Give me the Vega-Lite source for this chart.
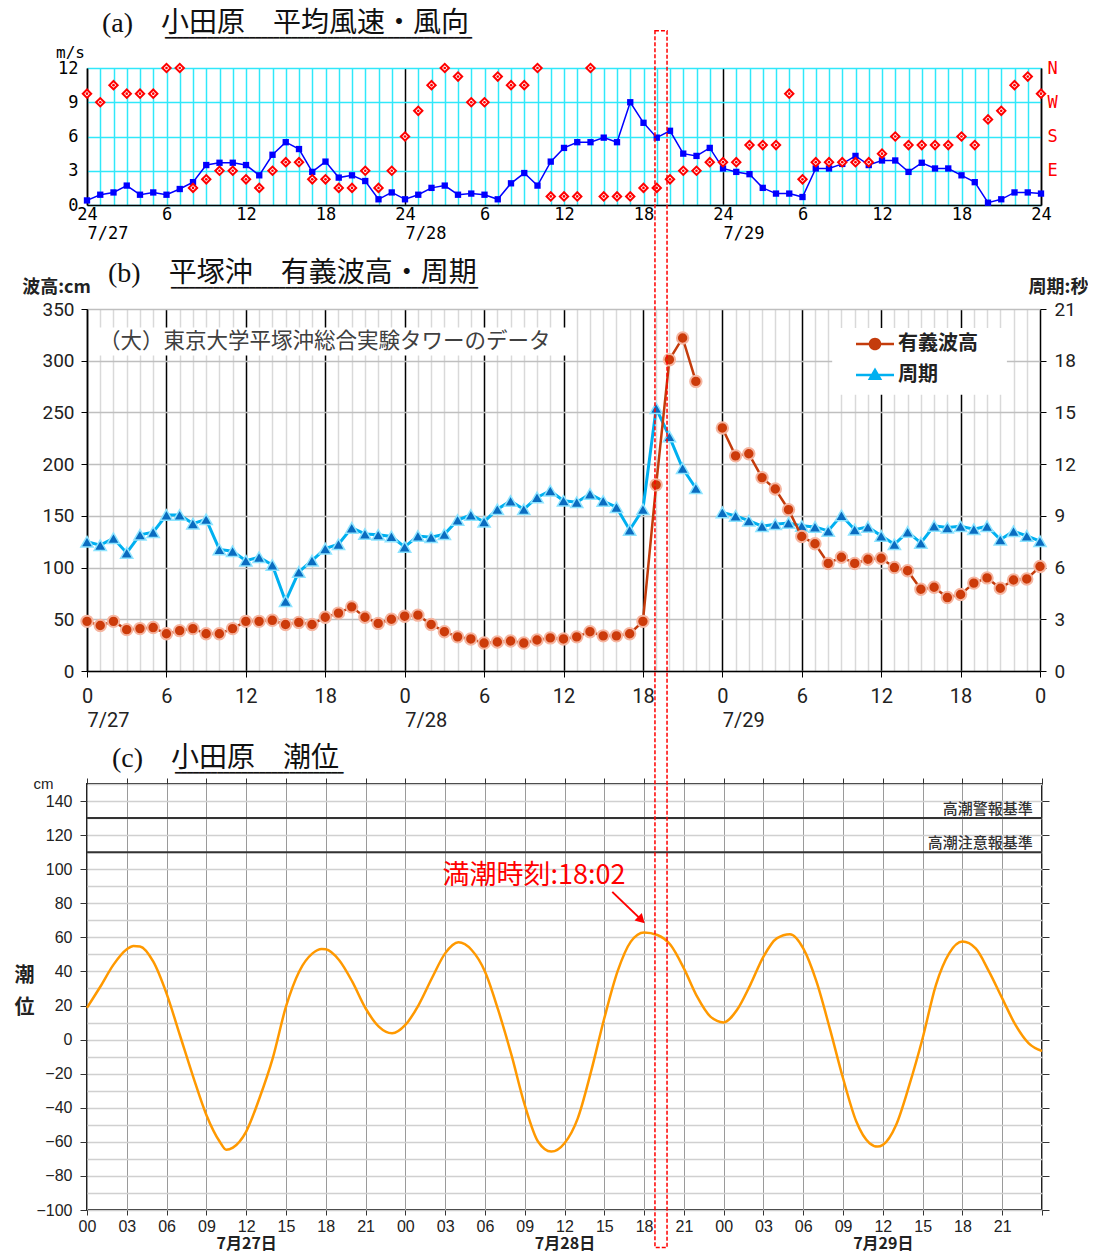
{
  "$schema": "https://vega.github.io/schema/vega-lite/v6.json",
  "background": "white",
  "padding": {"left": 13, "top": 10, "right": 0, "bottom": 0},
  "config": {"view": {"stroke": null}, "font": "Roboto"},
  "datasets": {
    "wind": [
      {"h":0,"speed":0.4,"dir":292.5},{"h":1,"speed":0.9,"dir":270},{"h":2,"speed":1.1,"dir":315},{"h":3,"speed":1.7,"dir":292.5},
      {"h":4,"speed":0.9,"dir":292.5},{"h":5,"speed":1.1,"dir":292.5},{"h":6,"speed":0.9,"dir":360},{"h":7,"speed":1.4,"dir":360},
      {"h":8,"speed":2.0,"dir":45},{"h":9,"speed":3.5,"dir":67.5},{"h":10,"speed":3.7,"dir":90},{"h":11,"speed":3.7,"dir":90},
      {"h":12,"speed":3.5,"dir":67.5},{"h":13,"speed":2.6,"dir":45},{"h":14,"speed":4.4,"dir":90},{"h":15,"speed":5.5,"dir":112.5},
      {"h":16,"speed":4.9,"dir":112.5},{"h":17,"speed":2.9,"dir":67.5},{"h":18,"speed":3.8,"dir":67.5},{"h":19,"speed":2.4,"dir":45},
      {"h":20,"speed":2.6,"dir":45},{"h":21,"speed":2.1,"dir":90},{"h":22,"speed":0.5,"dir":45},{"h":23,"speed":1.1,"dir":90},
      {"h":24,"speed":0.5,"dir":180},{"h":25,"speed":0.9,"dir":247.5},{"h":26,"speed":1.5,"dir":315},{"h":27,"speed":1.7,"dir":360},
      {"h":28,"speed":0.9,"dir":337.5},{"h":29,"speed":1.0,"dir":270},{"h":30,"speed":0.9,"dir":270},{"h":31,"speed":0.5,"dir":337.5},
      {"h":32,"speed":1.9,"dir":315},{"h":33,"speed":2.8,"dir":315},{"h":34,"speed":1.7,"dir":360},{"h":35,"speed":3.8,"dir":22.5},
      {"h":36,"speed":5.0,"dir":22.5},{"h":37,"speed":5.5,"dir":22.5},{"h":38,"speed":5.5,"dir":360},{"h":39,"speed":5.9,"dir":22.5},
      {"h":40,"speed":5.5,"dir":22.5},{"h":41,"speed":9.0,"dir":22.5},{"h":42,"speed":7.2,"dir":45},{"h":43,"speed":5.9,"dir":45},
      {"h":44,"speed":6.5,"dir":67.5},{"h":45,"speed":4.5,"dir":90},{"h":46,"speed":4.3,"dir":90},{"h":47,"speed":5.0,"dir":112.5},
      {"h":48,"speed":3.2,"dir":112.5},{"h":49,"speed":2.9,"dir":112.5},{"h":50,"speed":2.7,"dir":157.5},{"h":51,"speed":1.5,"dir":157.5},
      {"h":52,"speed":1.0,"dir":157.5},{"h":53,"speed":1.0,"dir":292.5},{"h":54,"speed":0.7,"dir":67.5},{"h":55,"speed":3.2,"dir":112.5},
      {"h":56,"speed":3.2,"dir":112.5},{"h":57,"speed":3.6,"dir":112.5},{"h":58,"speed":4.3,"dir":112.5},{"h":59,"speed":3.5,"dir":112.5},
      {"h":60,"speed":3.9,"dir":135},{"h":61,"speed":3.9,"dir":180},{"h":62,"speed":2.9,"dir":157.5},{"h":63,"speed":3.7,"dir":157.5},
      {"h":64,"speed":3.2,"dir":157.5},{"h":65,"speed":3.2,"dir":157.5},{"h":66,"speed":2.6,"dir":180},{"h":67,"speed":2.0,"dir":157.5},
      {"h":68,"speed":0.2,"dir":225},{"h":69,"speed":0.5,"dir":247.5},{"h":70,"speed":1.1,"dir":315},{"h":71,"speed":1.1,"dir":337.5},
      {"h":72,"speed":1.0,"dir":292.5}
    ],
    "wave": [
      {"h":0,"height":48,"period":7.5},{"h":1,"height":44,"period":7.3},{"h":2,"height":48,"period":7.7},{"h":3,"height":40,"period":6.85},
      {"h":4,"height":41,"period":7.9},{"h":5,"height":42,"period":8.05},{"h":6,"height":36,"period":9.05},{"h":7,"height":39,"period":9.05},
      {"h":8,"height":41,"period":8.55},{"h":9,"height":36,"period":8.8},{"h":10,"height":36,"period":7.05},{"h":11,"height":41,"period":6.95},
      {"h":12,"height":48,"period":6.4},{"h":13,"height":48,"period":6.6},{"h":14,"height":49,"period":6.15},{"h":15,"height":45,"period":4.05},
      {"h":16,"height":47,"period":5.75},{"h":17,"height":45,"period":6.4},{"h":18,"height":52,"period":7.1},{"h":19,"height":56,"period":7.35},
      {"h":20,"height":62,"period":8.3},{"h":21,"height":52,"period":7.95},{"h":22,"height":46,"period":7.9},{"h":23,"height":50,"period":7.8},
      {"h":24,"height":53,"period":7.2},{"h":25,"height":54,"period":7.83},{"h":26,"height":45,"period":7.76},{"h":27,"height":38,"period":7.93},
      {"h":28,"height":33,"period":8.76},{"h":29,"height":31,"period":9.05},{"h":30,"height":27,"period":8.66},{"h":31,"height":28,"period":9.38},
      {"h":32,"height":29,"period":9.86},{"h":33,"height":27,"period":9.38},{"h":34,"height":30,"period":10.07},{"h":35,"height":32,"period":10.46},
      {"h":36,"height":31,"period":9.88},{"h":37,"height":33,"period":9.79},{"h":38,"height":38,"period":10.27},{"h":39,"height":34,"period":9.86},
      {"h":40,"height":34,"period":9.5},{"h":41,"height":36,"period":8.18},{"h":42,"height":48,"period":9.38},{"h":43,"height":180,"period":15.24},
      {"h":44,"height":301,"period":13.6},{"h":45,"height":322,"period":11.76},{"h":46,"height":280,"period":10.6},{"h":47,"height":null,"period":null},
      {"h":48,"height":235,"period":9.2},{"h":49,"height":208,"period":9.0},{"h":50,"height":210,"period":8.72},{"h":51,"height":187,"period":8.4},
      {"h":52,"height":176,"period":8.51},{"h":53,"height":156,"period":8.59},{"h":54,"height":130,"period":8.42},{"h":55,"height":123,"period":8.36},
      {"h":56,"height":104,"period":8.13},{"h":57,"height":110,"period":9.03},{"h":58,"height":104,"period":8.2},{"h":59,"height":108,"period":8.36},
      {"h":60,"height":109,"period":7.84},{"h":61,"height":100,"period":7.35},{"h":62,"height":97,"period":8.07},{"h":63,"height":79,"period":7.43},
      {"h":64,"height":81,"period":8.42},{"h":65,"height":71,"period":8.32},{"h":66,"height":74,"period":8.4},{"h":67,"height":85,"period":8.22},
      {"h":68,"height":90,"period":8.4},{"h":69,"height":80,"period":7.62},{"h":70,"height":88,"period":8.11},{"h":71,"height":89,"period":7.84},
      {"h":72,"height":101,"period":7.53}
    ],
    "tide": [
      {"h":0,"level":18.7},{"h":1,"level":31},{"h":2,"level":44},{"h":3,"level":53},{"h":3.5,"level":55},{"h":4,"level":54.7},
      {"h":5,"level":45.7},{"h":6,"level":27},{"h":7,"level":2.7},{"h":8,"level":-21.7},{"h":9,"level":-44.2},{"h":10,"level":-59.8},
      {"h":10.5,"level":-64.7},{"h":11,"level":-63.4},{"h":12,"level":-54},{"h":13,"level":-34.4},{"h":14,"level":-11},{"h":15,"level":19.3},
      {"h":16,"level":40},{"h":17,"level":50.6},{"h":17.7,"level":53.2},{"h":18,"level":53},{"h":19,"level":46.7},{"h":20,"level":34},
      {"h":21,"level":18.4},{"h":22,"level":7.6},{"h":23,"level":3.7},{"h":24,"level":8.6},{"h":25,"level":20.3},{"h":26,"level":36},
      {"h":27,"level":50.6},{"h":28,"level":57.1},{"h":29,"level":52.6},{"h":30,"level":40},{"h":31,"level":17.4},{"h":32,"level":-9},
      {"h":33,"level":-38.3},{"h":34,"level":-59.8},{"h":35,"level":-65.7},{"h":36,"level":-60.8},{"h":37,"level":-46.2},{"h":38,"level":-18.8},
      {"h":39,"level":12.5},{"h":40,"level":40},{"h":41,"level":57.5},{"h":42,"level":62.9},{"h":43,"level":61.4},{"h":44,"level":55.5},
      {"h":45,"level":41.8},{"h":46,"level":25.2},{"h":47,"level":13.5},{"h":48,"level":10.1},{"h":49,"level":17.4},{"h":50,"level":32},
      {"h":51,"level":48.7},{"h":52,"level":59.4},{"h":53,"level":61.8},{"h":54,"level":53.5},{"h":55,"level":34},{"h":56,"level":6.6},
      {"h":57,"level":-22.7},{"h":58,"level":-48.1},{"h":59,"level":-60.8},{"h":59.6,"level":-62.8},{"h":60,"level":-61.8},{"h":61,"level":-50.1},
      {"h":62,"level":-26.6},{"h":63,"level":0.8},{"h":64,"level":32},{"h":65,"level":50.6},{"h":66,"level":57.5},{"h":67,"level":53.5},
      {"h":68,"level":40},{"h":69,"level":24.2},{"h":70,"level":8.6},{"h":71,"level":-2.2},{"h":72,"level":-6.7}
    ],
    "thresholds": [{"level":130,"label":"高潮警報基準"},{"level":110,"label":"高潮注意報基準"}],
    "legendItems": [{"series":"有義波高"},{"series":"周期"}]
  },
  "bounds": "flush",
  "spacing": 104,
  "vconcat": [
    {
      "width": 954,
      "height": 137,
      "title": {
        "text": "(a)\u2003小田原　平均風速・風向",
        "subtitle": "\u2800\u2800\u2800\u2800\u2800\u2800\u2800\u2800\u2800━━━━━━━━━━━━━━━━━━━━━━━━━━━━━━━━━━━━━━━━━━━━━━━━━━━",
        "anchor": "start", "frame": "group", "dx": 15, "offset": 1,
        "font": "Liberation Serif, Noto Sans CJK JP", "fontSize": 28, "fontWeight": "normal", "color": "#111",
        "subtitleFont": "DejaVu Sans Mono", "subtitleFontSize": 10, "subtitleColor": "#111", "subtitlePadding": -5
      },
      "data": {"name": "wind"},
      "resolve": {"scale": {"y": "independent"}, "axis": {"x": "independent", "y": "independent"}},
      "layer": [
        {
          "mark": {"type": "line", "color": "#0000ff", "strokeWidth": 1.5},
          "encoding": {
            "x": {"field": "h", "type": "quantitative", "scale": {"domain": [0, 72], "nice": false, "zero": false},
              "axis": {
                "orient": "bottom",
                "values": [0,1,2,3,4,5,6,7,8,9,10,11,12,13,14,15,16,17,18,19,20,21,22,23,24,25,26,27,28,29,30,31,32,33,34,35,36,37,38,39,40,41,42,43,44,45,46,47,48,49,50,51,52,53,54,55,56,57,58,59,60,61,62,63,64,65,66,67,68,69,70,71,72],
                "grid": true,
                "gridColor": {"condition": {"test": "datum.value % 24 === 0", "value": "#000000"}, "value": "#30e8fa"},
                "gridWidth": 1.5, "gridOpacity": 1,
                "ticks": false, "tickSize": 0,
                "domainColor": "#000", "domainWidth": 1.5,
                "labelExpr": "datum.value % 6 === 0 ? (datum.value % 24 === 0 ? '24' : '' + (datum.value % 24)) : ''",
                "labelFont": "DejaVu Sans Mono", "labelFontSize": 17, "labelColor": "#000",
                "labelPadding": 1, "labelFlush": false, "labelOverlap": false, "title": null
              }},
            "y": {"field": "speed", "type": "quantitative", "scale": {"domain": [0, 12], "nice": false},
              "axis": {
                "orient": "left",
                "values": [0, 3, 6, 9, 12], "grid": true, "gridColor": "#30e8fa", "gridWidth": 1.5, "gridOpacity": 1,
                "ticks": false, "tickSize": 0, "domainColor": "#000", "domainWidth": 1.5,
                "labelFont": "DejaVu Sans Mono", "labelFontSize": 17, "labelColor": "#000", "labelPadding": 9, "labelFlush": false,
                "title": "m/s", "titleAngle": 0, "titleX": -17, "titleY": -16, "titleAlign": "center", "titleBaseline": "middle",
                "titleFont": "DejaVu Sans Mono", "titleFontSize": 16, "titleFontWeight": "normal", "titleColor": "#000"
              }}
          }
        },
        {
          "mark": {"type": "point", "shape": "square", "filled": true, "color": "#0000ff", "size": 40, "opacity": 1},
          "encoding": {
            "x": {"field": "h", "type": "quantitative",
              "axis": {
                "orient": "bottom",
                "values": [0, 24, 48],
                "labelExpr": "datum.value === 0 ? '7/27' : datum.value === 24 ? '7/28' : '7/29'",
                "labelAlign": "left", "labelDx": 20, "ticks": false, "tickSize": 0, "grid": false, "domain": false,
                "labelFont": "DejaVu Sans Mono", "labelFontSize": 17, "labelColor": "#000", "labelPadding": 20,
                "labelFlush": false, "title": null
              }},
            "y": {"field": "speed", "type": "quantitative", "scale": {"domain": [0, 12], "nice": false}, "axis": null}
          }
        },
        {
          "mark": {"type": "point", "shape": "diamond", "filled": true, "fill": "#ffffff", "stroke": "#ff0000", "strokeWidth": 2, "size": 70, "opacity": 1},
          "encoding": {
            "x": {"field": "h", "type": "quantitative", "axis": null},
            "y": {"field": "dir", "type": "quantitative", "scale": {"domain": [0, 360], "nice": false},
              "axis": {
                "orient": "right", "values": [90, 180, 270, 360],
                "labelExpr": "datum.value === 360 ? 'N' : datum.value === 270 ? 'W' : datum.value === 180 ? 'S' : 'E'",
                "labelColor": "#ff0000", "labelFont": "DejaVu Sans Mono", "labelFontSize": 17, "labelPadding": 6,
                "ticks": false, "tickSize": 0, "grid": false, "domainColor": "#000", "domainWidth": 1.5, "labelFlush": false, "title": null
              }}
          }
        },
        {
          "mark": {"type": "point", "shape": "circle", "filled": true, "color": "#ff0000", "size": 7, "opacity": 1},
          "encoding": {
            "x": {"field": "h", "type": "quantitative", "axis": null},
            "y": {"field": "dir", "type": "quantitative", "scale": {"domain": [0, 360], "nice": false}, "axis": null}
          }
        }
      ]
    },
    {
      "bounds": "flush",
      "spacing": 113,
      "vconcat": [
        {
          "width": 953,
          "height": 362,
          "title": {
            "text": "(b)\u2003平塚沖　有義波高・周期",
            "subtitle": "\u2800\u2800\u2800\u2800\u2800\u2800\u2800\u2800\u2800━━━━━━━━━━━━━━━━━━━━━━━━━━━━━━━━━━━━━━━━━━━━━━━━━━━",
            "anchor": "start", "frame": "group", "dx": 21, "offset": -15,
            "font": "Liberation Serif, Noto Sans CJK JP", "fontSize": 28, "fontWeight": "normal", "color": "#111",
            "subtitleFont": "DejaVu Sans Mono", "subtitleFontSize": 10, "subtitleColor": "#111", "subtitlePadding": -5
          },
          "resolve": {"scale": {"y": "independent"}, "axis": {"x": "independent", "y": "independent"}},
          "layer": [
            {
              "data": {"values": [{"box": "note"}]},
              "mark": {"type": "rect", "fill": "#ffffff"},
              "encoding": {
                "x": {"datum": 0.6, "type": "quantitative", "scale": {"domain": [0, 72], "nice": false, "zero": false},
                  "axis": {
                    "orient": "bottom",
                    "values": [0,1,2,3,4,5,6,7,8,9,10,11,12,13,14,15,16,17,18,19,20,21,22,23,24,25,26,27,28,29,30,31,32,33,34,35,36,37,38,39,40,41,42,43,44,45,46,47,48,49,50,51,52,53,54,55,56,57,58,59,60,61,62,63,64,65,66,67,68,69,70,71,72],
                    "grid": true,
                    "gridColor": {"condition": {"test": "datum.value % 6 === 0", "value": "#000000"}, "value": "#d9d9d9"},
                    "gridWidth": 1.5, "gridOpacity": 1,
                    "ticks": true, "tickColor": "#000", "tickSize": 6,
                    "tickOpacity": {"condition": {"test": "datum.value % 6 === 0", "value": 1}, "value": 0},
                    "domainColor": "#000", "domainWidth": 1.5,
                    "labelExpr": "datum.value % 6 === 0 ? '' + (datum.value % 24) : ''",
                    "labelFont": "Roboto", "labelFontSize": 20, "labelColor": "#222",
                    "labelPadding": 9, "labelFlush": false, "labelOverlap": false, "title": null
                  }},
                "x2": {"datum": 36.6},
                "y": {"datum": 332, "type": "quantitative", "scale": {"domain": [0, 350], "nice": false},
                  "axis": {
                    "orient": "left",
                    "values": [0, 50, 100, 150, 200, 250, 300, 350],
                    "grid": true, "gridColor": "#bfbfbf", "gridWidth": 1.5, "gridOpacity": 1,
                    "tickColor": "#000", "tickSize": 6, "domainColor": "#000", "domainWidth": 1.5,
                    "labelFont": "Roboto", "labelFontSize": 19, "labelColor": "#222", "labelPadding": 7, "labelFlush": false,
                    "title": "波高:cm", "titleAngle": 0, "titleX": -31, "titleY": -22, "titleAlign": "center", "titleBaseline": "middle",
                    "titleFont": "Noto Sans CJK JP", "titleFontSize": 18, "titleFontWeight": "bold", "titleColor": "#222"
                  }},
                "y2": {"datum": 305}
              }
            },
            {
              "data": {"values": [{"box": "legend"}]},
              "mark": {"type": "rect", "fill": "#ffffff"},
              "encoding": {
                "x": {"datum": 56.3, "type": "quantitative", "axis": null},
                "x2": {"datum": 69.5},
                "y": {"datum": 331.6, "type": "quantitative", "scale": {"domain": [0, 350], "nice": false}, "axis": null},
                "y2": {"datum": 267}
              }
            },
            {
              "data": {"values": [{"note": "（大）東京大学平塚沖総合実験タワーのデータ"}]},
              "mark": {"type": "text", "align": "left", "baseline": "middle", "font": "Liberation Serif, Noto Sans CJK JP", "fontSize": 21.5, "color": "#404040"},
              "encoding": {
                "x": {"datum": 0.9, "type": "quantitative", "axis": null},
                "y": {"datum": 318, "type": "quantitative", "scale": {"domain": [0, 350], "nice": false}, "axis": null},
                "text": {"field": "note"}
              }
            },
            {
              "data": {"name": "wave"},
              "mark": {"type": "line", "color": "#00b0f0", "strokeWidth": 3},
              "encoding": {
                "x": {"field": "h", "type": "quantitative",
                  "axis": {
                    "orient": "bottom",
                    "values": [0, 24, 48],
                    "labelExpr": "datum.value === 0 ? '7/27' : datum.value === 24 ? '7/28' : '7/29'",
                    "labelAlign": "left", "labelDx": 3, "ticks": false, "tickSize": 0, "grid": false, "domain": false,
                    "labelFont": "Roboto", "labelFontSize": 20, "labelColor": "#222", "labelPadding": 39,
                    "labelFlush": false, "title": null
                  }},
                "y": {"field": "period", "type": "quantitative", "scale": {"domain": [0, 21], "nice": false},
                  "axis": {
                    "orient": "right", "values": [0, 3, 6, 9, 12, 15, 18, 21], "grid": false,
                    "tickColor": "#000", "tickSize": 6, "domain": false,
                    "labelFont": "Roboto", "labelFontSize": 19, "labelColor": "#222", "labelPadding": 8, "labelFlush": false,
                    "title": "周期:秒", "titleAngle": 0, "titleX": 18, "titleY": -22, "titleAlign": "center", "titleBaseline": "middle",
                    "titleFont": "Noto Sans CJK JP", "titleFontSize": 18, "titleFontWeight": "bold", "titleColor": "#222"
                  }}
              }
            },
            {
              "data": {"name": "wave"},
              "mark": {"type": "point", "shape": "triangle-up", "filled": true, "fill": "#0a6cc0", "stroke": "#8de4ff", "strokeWidth": 1.5, "size": 150, "opacity": 1},
              "encoding": {
                "x": {"field": "h", "type": "quantitative", "axis": null},
                "y": {"field": "period", "type": "quantitative", "scale": {"domain": [0, 21], "nice": false}, "axis": null}
              }
            },
            {
              "data": {"name": "wave"},
              "mark": {"type": "line", "color": "#c43c0c", "strokeWidth": 2.5},
              "encoding": {
                "x": {"field": "h", "type": "quantitative", "axis": null},
                "y": {"field": "height", "type": "quantitative", "scale": {"domain": [0, 350], "nice": false}, "axis": null}
              }
            },
            {
              "data": {"name": "wave"},
              "mark": {"type": "point", "shape": "circle", "filled": true, "fill": "#cc3b0a", "stroke": "#f5b5a0", "strokeWidth": 2, "size": 130, "opacity": 1},
              "encoding": {
                "x": {"field": "h", "type": "quantitative", "axis": null},
                "y": {"field": "height", "type": "quantitative", "scale": {"domain": [0, 350], "nice": false}, "axis": null}
              }
            },
            {
              "data": {"name": "legendItems"},
              "mark": {"type": "point", "filled": true, "opacity": 0},
              "encoding": {
                "color": {"field": "series", "type": "nominal",
                  "scale": {"domain": ["有義波高", "周期"], "range": ["#c43c0c", "#00b0f0"]},
                  "legend": {"orient": "none", "legendX": 769, "legendY": 257, "title": null, "padding": 0,
                    "symbolSize": 1444, "symbolStrokeWidth": 0, "symbolOpacity": 1,
                    "labelFont": "Noto Sans CJK JP", "labelFontSize": 20, "labelFontWeight": "bold", "labelColor": "#222",
                    "labelOffset": 4, "rowPadding": 2}},
                "shape": {"field": "series", "type": "nominal",
                  "scale": {"domain": ["有義波高", "周期"], "range": [
                    "M-1,-0.07H1V0.07H-1Z M0.33,0A0.33,0.33,0,1,1,-0.33,0A0.33,0.33,0,1,1,0.33,0Z",
                    "M-1,-0.07H1V0.07H-1Z M0,-0.4L0.38,0.26L-0.38,0.26Z"]},
                  "legend": {"orient": "none", "legendX": 769, "legendY": 257, "title": null, "padding": 0,
                    "symbolSize": 1444, "symbolStrokeWidth": 0, "symbolOpacity": 1,
                    "labelFont": "Noto Sans CJK JP", "labelFontSize": 20, "labelFontWeight": "bold", "labelColor": "#222",
                    "labelOffset": 4, "rowPadding": 2}}
              }
            }
          ]
        },
        {
          "width": 955,
          "height": 426,
          "view": {"stroke": "#222222", "strokeWidth": 2},
          "title": {
            "text": "(c)\u2003小田原　潮位",
            "subtitle": "\u2800\u2800\u2800\u2800\u2800\u2800\u2800\u2800\u2800━━━━━━━━━━━━━━━━━━━━━━━━━━━━",
            "anchor": "start", "frame": "group", "dx": 25, "offset": -748,
            "font": "Liberation Serif, Noto Sans CJK JP", "fontSize": 28, "fontWeight": "normal", "color": "#111",
            "subtitleFont": "DejaVu Sans Mono", "subtitleFontSize": 10, "subtitleColor": "#111", "subtitlePadding": -5
          },
          "resolve": {"axis": {"x": "independent", "y": "independent"}},
          "layer": [
            {
              "data": {"name": "thresholds"},
              "mark": {"type": "rule", "color": "#333333", "strokeWidth": 2},
              "encoding": {
                "x": {"datum": 0, "type": "quantitative", "scale": {"domain": [0, 72], "nice": false, "zero": false},
                  "axis": {
                    "orient": "bottom",
                    "values": [0,3,6,9,12,15,18,21,24,27,30,33,36,39,42,45,48,51,54,57,60,63,66,69,72],
                    "grid": true, "gridColor": "#9a9a9a", "gridWidth": 1, "gridOpacity": 1,
                    "ticks": true, "tickColor": "#333", "tickSize": 5, "domain": false,
                    "labelExpr": "datum.value < 72 ? ((datum.value % 24 < 10 ? '0' : '') + (datum.value % 24)) : ''",
                    "labelFont": "Liberation Sans", "labelFontSize": 16, "labelColor": "#222", "labelPadding": 3,
                    "labelFlush": false, "labelOverlap": false, "title": null
                  }},
                "x2": {"datum": 72},
                "y": {"field": "level", "type": "quantitative", "scale": {"domain": [-100, 150], "nice": false, "zero": false},
                  "axis": {
                    "orient": "left",
                    "values": [-100,-90,-80,-70,-60,-50,-40,-30,-20,-10,0,10,20,30,40,50,60,70,80,90,100,110,120,130,140,150],
                    "grid": true, "gridColor": "#d0d0d0", "gridWidth": 1.5, "gridOpacity": 1,
                    "tickColor": "#333", "tickSize": 7,
                    "tickOpacity": {"condition": {"test": "datum.value % 20 !== 0 || datum.value > 140", "value": 0}, "value": 1},
                    "domain": false,
                    "labelExpr": "datum.value % 20 === 0 && datum.value <= 140 ? datum.label : ''",
                    "labelFont": "Liberation Sans", "labelFontSize": 16, "labelColor": "#222", "labelPadding": 8,
                    "labelFlush": false, "labelOverlap": false,
                    "title": "cm", "titleAngle": 0, "titleX": -44, "titleY": -1, "titleAlign": "center", "titleBaseline": "middle",
                    "titleFont": "Liberation Sans", "titleFontSize": 15, "titleFontWeight": "normal", "titleColor": "#222"
                  }}
              }
            },
            {
              "data": {"name": "thresholds"},
              "mark": {"type": "text", "align": "right", "baseline": "middle", "dy": -9, "font": "Noto Sans CJK JP", "fontSize": 15, "fontWeight": 500, "color": "#333333"},
              "encoding": {
                "x": {"datum": 71.3, "type": "quantitative",
                  "axis": {
                    "orient": "bottom",
                    "values": [12, 36, 60],
                    "labelExpr": "datum.value === 12 ? '7月27日' : datum.value === 36 ? '7月28日' : '7月29日'",
                    "ticks": false, "tickSize": 0, "grid": false, "domain": false,
                    "labelFont": "Noto Sans CJK JP", "labelFontSize": 16, "labelFontWeight": "bold", "labelColor": "#222",
                    "labelPadding": 25, "labelFlush": false, "title": null
                  }},
                "y": {"field": "level", "type": "quantitative",
                  "axis": {
                    "orient": "left",
                    "labels": false, "ticks": false, "tickSize": 0, "grid": false, "domain": false,
                    "title": ["潮", "位"], "titleAngle": 0, "titleX": -63, "titleY": 191, "titleAlign": "center", "titleBaseline": "middle",
                    "titleFont": "Noto Sans CJK JP", "titleFontSize": 20, "titleFontWeight": "bold", "titleColor": "#222", "titleLineHeight": 32
                  }},
                "text": {"field": "label"}
              }
            },
            {
              "data": {"name": "tide"},
              "mark": {"type": "line", "color": "#ff9900", "strokeWidth": 2.5, "interpolate": "monotone"},
              "encoding": {
                "x": {"field": "h", "type": "quantitative",
                  "axis": {
                    "orient": "top", "values": [0,3,6,9,12,15,18,21,24,27,30,33,36,39,42,45,48,51,54,57,60,63,66,69,72],
                    "labels": false, "ticks": true, "tickSize": 6, "tickColor": "#333", "grid": false, "domain": false, "title": null
                  }},
                "y": {"field": "level", "type": "quantitative",
                  "axis": {
                    "orient": "right", "values": [-100,-80,-60,-40,-20,0,20,40,60,80,100,120,140],
                    "labels": false, "ticks": true, "tickSize": 7, "tickColor": "#333", "grid": false, "domain": false, "title": null
                  }}
              }
            },
            {
              "data": {"values": [{"note": "満潮時刻:18:02"}]},
              "mark": {"type": "text", "align": "right", "baseline": "middle", "font": "Noto Sans CJK JP", "fontSize": 27, "color": "#ff0000"},
              "encoding": {
                "x": {"datum": 40.6, "type": "quantitative", "axis": null},
                "y": {"datum": 96, "type": "quantitative", "axis": null},
                "text": {"field": "note"}
              }
            },
            {
              "data": {"values": [{"note": "満潮時刻:18:02"}]},
              "mark": {"type": "rule", "color": "#ff0000", "strokeWidth": 2},
              "encoding": {
                "x": {"datum": 39.6, "type": "quantitative", "axis": null},
                "x2": {"datum": 41.7},
                "y": {"datum": 86.7, "type": "quantitative", "axis": null},
                "y2": {"datum": 71}
              }
            },
            {
              "data": {"values": [{"note": "満潮時刻:18:02"}]},
              "mark": {"type": "point", "shape": "triangle-up", "filled": true, "color": "#ff0000", "size": 110, "angle": 134, "opacity": 1},
              "encoding": {
                "x": {"datum": 41.8, "type": "quantitative", "axis": null},
                "y": {"datum": 70.2, "type": "quantitative", "axis": null}
              }
            },
            {
              "data": {"values": [{"note": "高潮時間帯"}]},
              "mark": {"type": "rect", "fill": null, "fillOpacity": 0, "stroke": "#ff0000", "strokeWidth": 1.5, "strokeDash": [4, 2]},
              "encoding": {
                "x": {"datum": 42.82, "type": "quantitative", "axis": null},
                "x2": {"datum": 43.73},
                "y": {"datum": 592, "type": "quantitative", "axis": null},
                "y2": {"datum": -122}
              }
            }
          ]
        }
      ]
    }
  ]
}
